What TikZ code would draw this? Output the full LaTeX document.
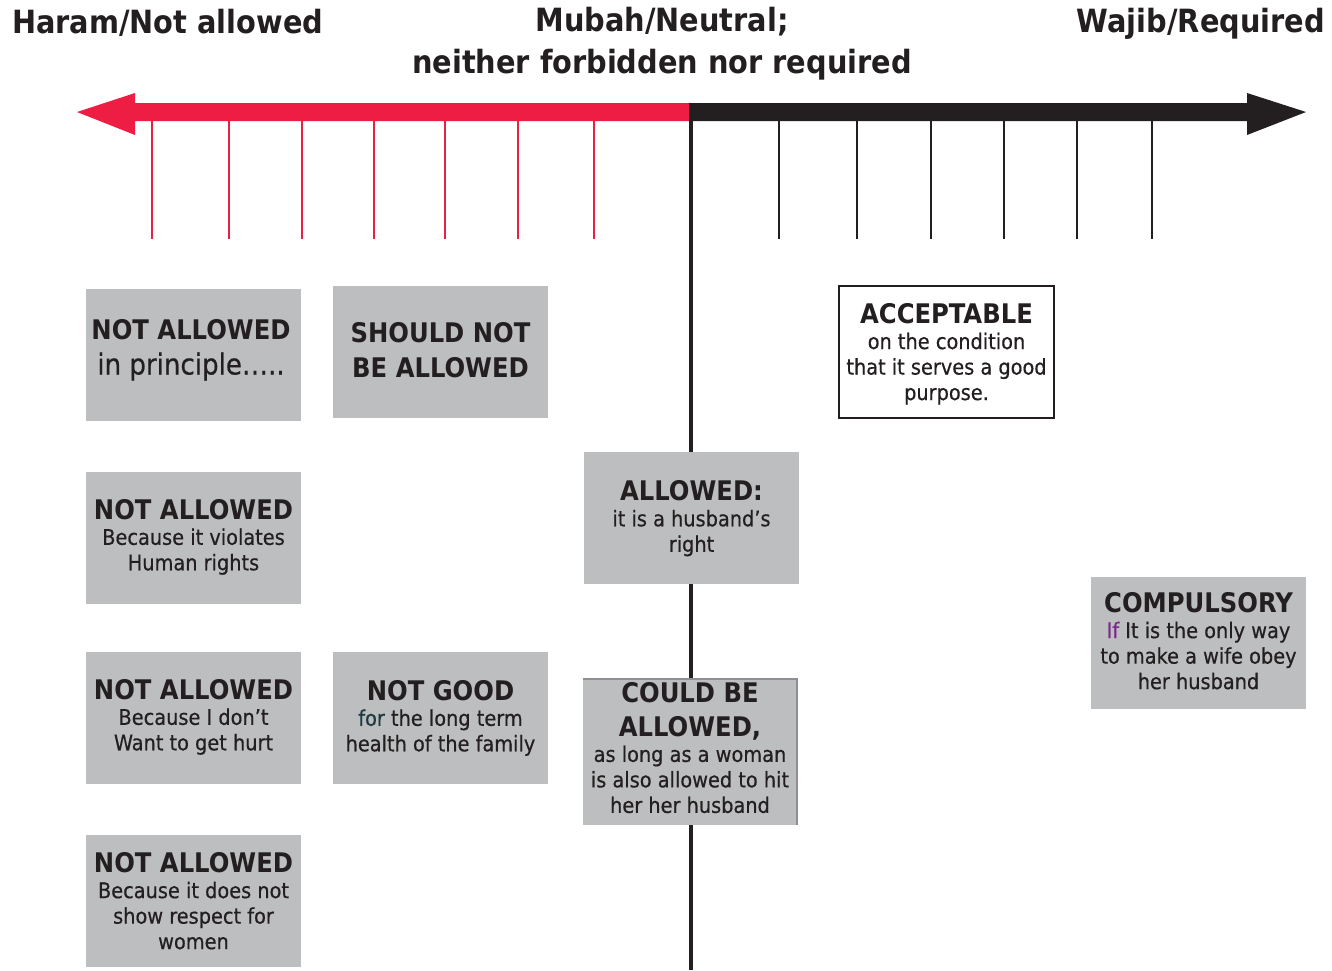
\documentclass[tikz,border=0pt]{standalone}
\usepackage{fontspec}
\setmainfont{DejaVu Sans Condensed}
\newfontfamily\medfam[FakeBold=0.5]{DejaVu Sans Condensed}
\definecolor{ink}{HTML}{231F20}
\definecolor{haram}{HTML}{EE1D44}
\definecolor{boxgray}{HTML}{BDBEC0}
\definecolor{edgegray}{HTML}{8E8F92}
\definecolor{tealword}{HTML}{1B3B40}
\definecolor{purpleword}{HTML}{7B2A8C}
\newcommand{\hd}{\fontsize{27}{30}\normalfont\bfseries\selectfont}
\newcommand{\bd}{\medfam\fontsize{21.5}{25.5}\selectfont}
\newcommand{\ttl}{\fontsize{32}{42}\bfseries\selectfont}
\begin{document}
\begin{tikzpicture}[x=1pt,y=-1pt,
  cell/.style={fill=boxgray, minimum width=215, minimum height=132, inner sep=0pt},
  words/.style={text=ink, font=\bd, inner sep=0pt, align=center},
  title/.style={text=ink, font=\ttl, inner sep=0pt, align=center},
  redtick/.style={draw=haram, line width=2pt},
  blacktick/.style={draw=ink, line width=2pt}]
\useasboundingbox (0,0) rectangle (1332,970);

% headings over the scale
\node[title, anchor=west] (haram) at (12,23) {Haram/Not allowed};
\node[title] (mubah) at (662,44) {Mubah/Neutral;\\neither forbidden nor required};
\node[title, anchor=east] (wajib) at (1325,24) {Wajib/Required};

% the scale: red half to the left, black half to the right
\coordinate (lefttip) at (77,112);
\coordinate (righttip) at (1306,112);
\fill[haram] (lefttip) -- (135,93) -- (135,103) -- (692,103) -- (692,121) -- (135,121) -- (135,135) -- cycle;
\fill[ink] (righttip) -- (1247,93) -- (1247,103) -- (691,103) -- (691,121) -- (1247,121) -- (1247,135) -- cycle;

% ticks
\foreach \x in {152,229,302,374,445,518,594}
  \draw[redtick] (\x,121) -- (\x,239);
\foreach \x in {779,857,931,1004,1077,1152}
  \draw[blacktick] (\x,121) -- (\x,239);

% neutral axis
\coordinate (axistop) at (691,103);
\coordinate (axisbottom) at (691,970);
\draw[ink, line width=4pt] (axistop) -- (axisbottom);

% grey category boxes
\node[cell] (principle) at (193.5,355) {};
\node[cell] (shouldnot) at (440.5,352) {};
\node[cell] (rights) at (193.5,538) {};
\node[cell] (hurt) at (193.5,718) {};
\node[cell] (notgood) at (440.5,718) {};
\node[cell] (respect) at (193.5,901) {};
\node[cell] (allowed) at (691.5,518) {};
\node[cell, minimum width=214, minimum height=146] (could) at (690,752) {};
\draw[edgegray, line width=1.5pt] (could.north west) -- (could.north east) -- (could.south east);
\node[cell, fill=white, draw=ink, line width=2pt] (acceptable) at (946.5,351.5) {};
\node[cell] (compulsory) at (1198.5,643) {};

% their texts
\node[words, font=\fontsize{29}{35}\selectfont] (principletext) at (191,350)
  {{\hd NOT ALLOWED}\\{\medfam\fontsize{29}{35}\selectfont in principle…..}};
\node[words, font=\fontsize{27}{35}\selectfont] (shouldnottext) at (440.5,350)
  {{\hd SHOULD NOT}\\{\hd BE ALLOWED}};
\node[words] (rightstext) at (193.5,537) {{\hd NOT ALLOWED}\\Because it violates\\Human rights};
\node[words] (hurttext) at (193.5,717) {{\hd NOT ALLOWED}\\Because I don’t\\Want to get hurt};
\node[words] (notgoodtext) at (440.5,718) {{\hd NOT GOOD}\\{\color{tealword}for} the long term\\health of the family};
\node[words] (respecttext) at (193.5,901) {{\hd NOT ALLOWED}\\Because it does not\\show respect for\\women};
\node[words] (allowedtext) at (691.5,518.5) {{\hd ALLOWED:}\\it is a husband’s\\right};
\node[words] (couldtext) at (690,748)
  {{\hd COULD BE}\\[8pt]{\hd ALLOWED,}\\as long as a woman\\is also allowed to hit\\her her husband};
\node[words] (acceptabletext) at (946.5,354) {{\hd ACCEPTABLE}\\on the condition\\that it serves a good\\purpose.};
\node[words] (compulsorytext) at (1198.5,641) {{\hd COMPULSORY}\\{\color{purpleword}If} It is the only way\\to make a wife obey\\her husband};
\end{tikzpicture}
\end{document}
